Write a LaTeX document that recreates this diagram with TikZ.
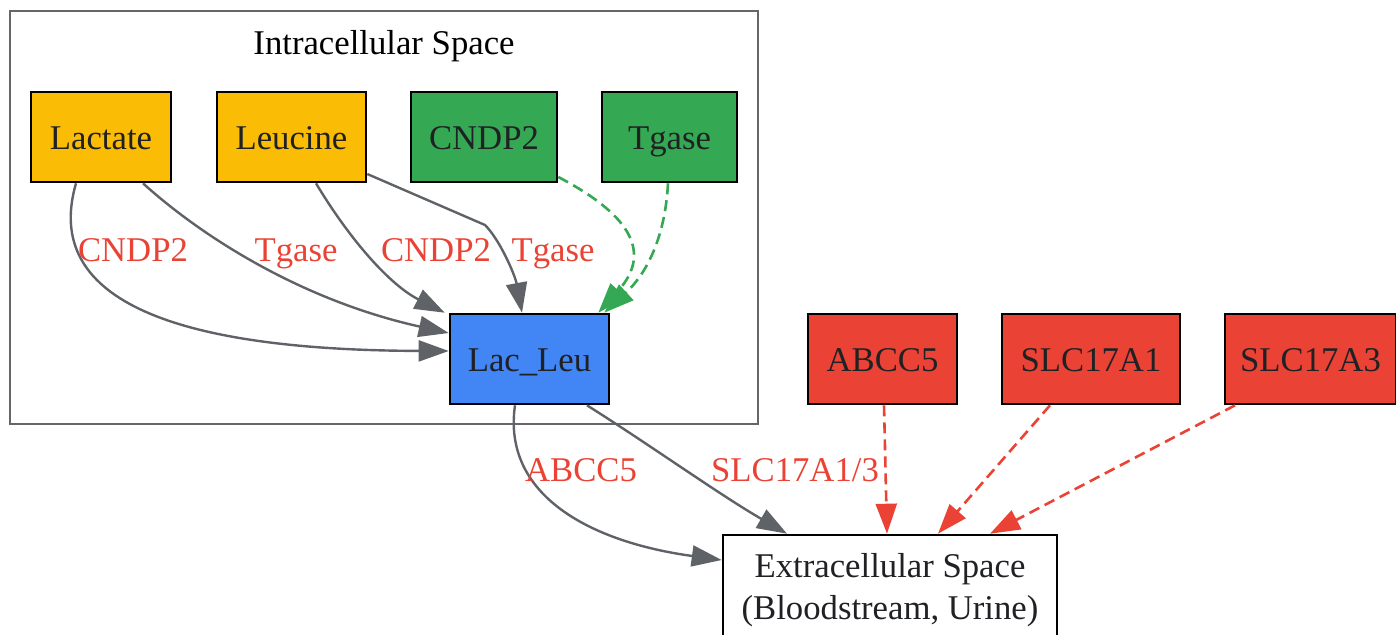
\documentclass[tikz,border=0pt]{standalone}
\usepackage{fontspec}
\setmainfont{Liberation Serif}
\usepackage{tikz}
\usetikzlibrary{arrows.meta}

\definecolor{gyellow}{HTML}{FBBC05}
\definecolor{ggreen}{HTML}{34A853}
\definecolor{gblue}{HTML}{4285F4}
\definecolor{gred}{HTML}{EA4335}
\definecolor{ggrey}{HTML}{5F6368}
\definecolor{gtext}{HTML}{202124}

\begin{document}
\begin{tikzpicture}[x=0.5pt,y=-0.5pt,
    every node/.style={font=\fontsize{17.35}{21}\selectfont},
    mol/.style={draw=black,line width=1.3pt,minimum height=45pt,inner sep=0pt,text=gtext,
                text height=12.5pt,text depth=0.5pt},
    flow/.style={draw=ggrey,line width=1.2pt,-{Triangle[length=15pt,width=10.5pt]}},
    enz/.style={line width=1.3pt,dash pattern=on 5.5pt off 3pt,-{Triangle[length=15pt,width=10.5pt]}},
    lbl/.style={text=gred,inner sep=0pt,anchor=base}]
          \useasboundingbox (0,0) rectangle (1396,634);
          \draw[draw=black!60,line width=1.2pt] (10,11) rectangle (758,424);   % cluster
          \node[anchor=base] (title) at (384,54) {Intracellular Space};
          \node[mol,fill=gyellow,minimum width=70pt]   (lactate) at (101,137)   {Lactate};
          \node[mol,fill=gyellow,minimum width=74.5pt] (leucine) at (291.5,137) {Leucine};
          \node[mol,fill=ggreen,minimum width=73pt]    (cndp)    at (484,137)   {CNDP2};
          \node[mol,fill=ggreen,minimum width=67.5pt]  (tgase)   at (669.5,137) {Tgase};
          \node[mol,fill=gblue,minimum width=79.5pt]   (lacleu)  at (529.5,359) {Lac\_Leu};
          \node[mol,fill=gred,minimum width=74.5pt]    (abcc)    at (882.5,359) {ABCC5};
          \node[mol,fill=gred,minimum width=89pt]      (slca)    at (1091,359)  {SLC17A1};
          \node[mol,fill=gred,minimum width=85.5pt]    (slcc)    at (1310.5,359) {SLC17A3};
          \node[draw=black,line width=1.3pt,fill=white,text=gtext,minimum width=167pt,minimum height=55pt,align=center] (extra) at (890,590)
                {Extracellular Space\\(Bloodstream, Urine)};
          % synthesis
          \draw[flow] ([xshift=-12.5pt]lactate.south) .. controls (45,290) and (150,350) .. ([yshift=4pt]lacleu.west);
          \draw[flow] ([xshift=21pt]lactate.south) .. controls (200,235) and (300,300) .. ([yshift=13pt]lacleu.west);
          \draw[flow] ([xshift=12.25pt]leucine.south) .. controls (350,240) and (390,285) .. ([xshift=-2pt]lacleu.north west);
          \draw[flow] ([yshift=-18.5pt]leucine.east) -- (485,225) .. controls (500,240) and (515,275) .. ([xshift=-3.75pt]lacleu.north);
          \draw[enz,draw=ggreen] ([yshift=-20pt]cndp.east) .. controls (625,212) and (655,250) .. ([xshift=-6pt]lacleu.north east);
          \draw[enz,draw=ggreen] ([xshift=-0.75pt]tgase.south) .. controls (665,240) and (645,275) .. ([xshift=-3pt]lacleu.north east);
          % export
          \draw[flow] ([xshift=-7.25pt]lacleu.south) .. controls (502,495) and (590,542) .. ([yshift=15pt]extra.west);
          \draw[flow] ([xshift=28.75pt]lacleu.south) .. controls (650,445) and (720,495) .. ([xshift=-51.5pt]extra.north);
          \draw[enz,draw=gred] ([xshift=0.75pt]abcc.south) -- ([xshift=-1.5pt]extra.north);
          \draw[enz,draw=gred] ([xshift=-20.5pt]slca.south) -- ([xshift=24pt]extra.north);
          \draw[enz,draw=gred] ([xshift=-37.75pt]slcc.south) -- ([xshift=50pt]extra.north);
          % edge labels
          \node[lbl] (lblA) at (133,261) {CNDP2};
          \node[lbl] (lblB) at (296,261) {Tgase};
          \node[lbl] (lblC) at (436,261) {CNDP2};
          \node[lbl] (lblD) at (553,261) {Tgase};
          \node[lbl] (lblE) at (581,481) {ABCC5};
          \node[lbl] (lblF) at (795,481) {SLC17A1/3};
\end{tikzpicture}
\end{document}
